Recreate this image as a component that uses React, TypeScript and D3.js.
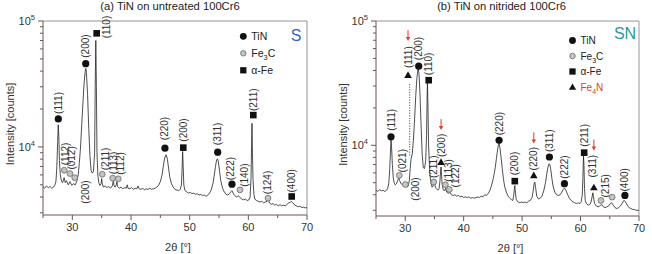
import React from "react";
import * as d3 from "d3";

// ---------- data ----------
type Pt = [number, number];
type Peak = { phase: "TiN" | "Fe3C" | "aFe" | "Fe4N"; hkl: string; theta: number; counts: number };

const xTicksMajor = [30, 40, 50, 60, 70];
const xTicksMinor = [25, 35, 45, 55, 65];
const yTicksMajor = [1e4, 1e5];
const yTicksMinor = [3000, 4000, 5000, 6000, 7000, 8000, 9000, 20000, 30000, 40000, 50000, 60000, 70000, 80000, 90000];

// TiN on untreated 100Cr6 (2θ in degrees, counts)
const sSpectrum: Pt[] = [
  [25.0, 4850], [25.3, 4700], [25.6, 4900], [25.9, 4750], [26.2, 4850], [26.5, 4700], [26.8, 4800], [27.0, 4950],
  [27.2, 5300], [27.35, 6800], [27.5, 11000], [27.6, 15000], [27.7, 12000], [27.8, 7800], [27.95, 6000], [28.1, 5500],
  [28.3, 5200], [28.4, 5300], [28.6, 5700], [28.8, 5200], [29.0, 5400], [29.3, 5000], [29.6, 5300], [29.9, 4950],
  [30.2, 5100], [30.5, 5000], [30.8, 5400], [31.0, 6000], [31.2, 7500], [31.4, 10000], [31.6, 15000], [31.8, 22000],
  [32.0, 32000], [32.2, 40000], [32.3, 42000], [32.4, 39000], [32.6, 26000], [32.8, 14000], [33.0, 8500], [33.2, 6500],
  [33.4, 6200], [33.6, 6400], [33.8, 9000], [33.9, 30000], [34.0, 70000], [34.1, 30000], [34.2, 9000], [34.35, 6000],
  [34.5, 5200], [34.7, 4950], [34.9, 5100], [35.0, 5600], [35.1, 5100], [35.3, 4800], [35.6, 4900], [35.9, 4750],
  [36.2, 4850], [36.5, 4700], [36.8, 4900], [37.0, 5400], [37.1, 4900], [37.3, 4800], [37.5, 5000], [37.6, 5300],
  [37.7, 4850], [38.0, 4700], [38.3, 4800], [38.6, 4650], [38.9, 4750], [39.2, 4700], [39.35, 5000], [39.5, 4700],
  [39.8, 4650], [40.1, 4750], [40.4, 4600], [40.7, 4700], [41.0, 4650], [41.2, 4900], [41.4, 4650], [41.7, 4600],
  [42.0, 4700], [42.3, 4550], [42.6, 4650], [42.9, 4600], [43.2, 4700], [43.5, 4600], [43.8, 4650], [44.1, 4700],
  [44.4, 4800], [44.7, 4950], [45.0, 5300], [45.3, 6000], [45.5, 7000], [45.7, 8000], [45.9, 8600], [46.0, 8650],
  [46.2, 8000], [46.4, 6800], [46.6, 5800], [46.9, 5100], [47.2, 4800], [47.5, 4600], [47.8, 4550], [48.1, 4500],
  [48.4, 4600], [48.6, 5000], [48.7, 6500], [48.8, 9200], [48.9, 7000], [49.0, 5000], [49.2, 4500], [49.5, 4400],
  [49.8, 4300], [50.1, 4350], [50.4, 4250], [50.7, 4300], [51.0, 4200], [51.3, 4250], [51.6, 4150], [51.9, 4200],
  [52.2, 4100], [52.5, 4150], [52.8, 4050], [53.1, 4150], [53.4, 4300], [53.7, 4600], [54.0, 5200], [54.2, 6000],
  [54.4, 7000], [54.6, 7900], [54.75, 8050], [54.9, 7600], [55.1, 6400], [55.3, 5400], [55.6, 4700], [55.9, 4400],
  [56.2, 4200], [56.5, 4150], [56.8, 4250], [57.0, 4400], [57.2, 4500], [57.4, 4300], [57.7, 4100], [58.0, 4000],
  [58.3, 4100], [58.6, 3950], [58.9, 3850], [59.2, 3800], [59.5, 3850], [59.8, 3750], [60.1, 3800], [60.3, 4000],
  [60.45, 5500], [60.55, 10000], [60.62, 15400], [60.7, 9000], [60.8, 5500], [60.95, 4200], [61.1, 3850], [61.4, 3750],
  [61.7, 3700], [62.0, 3650], [62.3, 3700], [62.6, 3600], [62.9, 3650], [63.2, 3700], [63.4, 3850], [63.6, 3600],
  [63.9, 3500], [64.2, 3550], [64.5, 3450], [64.8, 3500], [65.1, 3400], [65.4, 3480], [65.7, 3400], [66.0, 3450],
  [66.3, 3400], [66.6, 3500], [66.9, 3600], [67.2, 3650], [67.4, 3680], [67.6, 3600], [67.9, 3450], [68.2, 3400],
  [68.5, 3350], [68.8, 3380], [69.1, 3300], [69.4, 3320], [69.7, 3280], [70.0, 3300],
];

// TiN on nitrided 100Cr6
const snSpectrum: Pt[] = [
  [25.0, 4350], [25.3, 4250], [25.6, 4400], [25.9, 4300], [26.2, 4350], [26.5, 4250], [26.8, 4350], [27.0, 4500],
  [27.2, 5000], [27.35, 6500], [27.5, 9500], [27.57, 11000], [27.65, 10000], [27.8, 7000], [27.95, 5500], [28.1, 5000],
  [28.3, 4800], [28.5, 4900], [28.7, 5200], [28.9, 5500], [29.05, 5200], [29.3, 4900], [29.6, 4800], [29.9, 5000],
  [30.1, 4800], [30.3, 4600], [30.5, 4700], [30.7, 5200], [30.85, 6500], [31.0, 7800], [31.2, 8500], [31.4, 11000],
  [31.6, 16000], [31.8, 25000], [32.0, 35000], [32.2, 41500], [32.35, 38000], [32.5, 28000], [32.7, 15000], [32.9, 8500],
  [33.1, 6600], [33.3, 6500], [33.5, 7500], [33.65, 12000], [33.75, 25000], [33.8, 32000], [33.88, 22000], [34.0, 10000],
  [34.2, 6000], [34.4, 5000], [34.6, 4600], [34.8, 4750], [34.95, 5100], [35.1, 4700], [35.3, 4500], [35.6, 4350],
  [35.8, 4500], [35.95, 5200], [36.05, 6200], [36.13, 6700], [36.2, 6000], [36.3, 4900], [36.5, 4400], [36.7, 4300],
  [36.9, 4500], [37.1, 4200], [37.4, 4100], [37.6, 4250], [37.9, 4000], [38.2, 3950], [38.5, 4000], [38.8, 3900],
  [39.1, 3950], [39.4, 3850], [39.7, 3900], [40.0, 3800], [40.3, 3850], [40.6, 3800], [40.9, 3850], [41.2, 3750],
  [41.5, 3800], [41.8, 3750], [42.1, 3800], [42.4, 3850], [42.7, 3800], [43.0, 3900], [43.3, 3850], [43.6, 4000],
  [43.9, 3950], [44.2, 4100], [44.5, 4350], [44.8, 4800], [45.1, 5500], [45.4, 6600], [45.6, 7800], [45.8, 9200],
  [45.95, 10100], [46.06, 10300], [46.2, 9600], [46.4, 8000], [46.6, 6500], [46.8, 5400], [47.0, 4700], [47.3, 4200],
  [47.6, 3900], [47.9, 3750], [48.2, 3650], [48.4, 3600], [48.55, 3900], [48.68, 4500], [48.75, 4750], [48.85, 4200],
  [49.0, 3650], [49.3, 3500], [49.6, 3450], [49.9, 3500], [50.2, 3450], [50.5, 3500], [50.8, 3450], [51.1, 3550],
  [51.4, 3600], [51.7, 3800], [51.9, 4300], [52.05, 4900], [52.17, 5060], [52.3, 4600], [52.5, 3900], [52.8, 3700],
  [53.1, 3750], [53.4, 3900], [53.7, 4300], [54.0, 5000], [54.2, 5800], [54.4, 6600], [54.6, 7100], [54.75, 7000],
  [54.9, 6400], [55.1, 5400], [55.3, 4700], [55.6, 4200], [55.9, 4000], [56.2, 3950], [56.5, 4000], [56.8, 4200],
  [57.0, 4400], [57.25, 4530], [57.5, 4350], [57.8, 4000], [58.1, 3750], [58.4, 3600], [58.7, 3500], [59.0, 3450],
  [59.3, 3400], [59.6, 3450], [59.9, 3400], [60.1, 3500], [60.3, 4000], [60.4, 5500], [60.5, 8300], [60.58, 7000],
  [60.68, 4500], [60.8, 3600], [61.0, 3400], [61.3, 3300], [61.6, 3350], [61.8, 3500], [62.0, 3900], [62.1, 4150],
  [62.2, 3900], [62.4, 3400], [62.7, 3250], [63.0, 3200], [63.3, 3250], [63.6, 3350], [63.9, 3200], [64.2, 3150],
  [64.5, 3200], [64.8, 3250], [65.1, 3400], [65.3, 3450], [65.6, 3300], [65.9, 3150], [66.2, 3100], [66.5, 3150],
  [66.8, 3250], [67.1, 3400], [67.35, 3580], [67.5, 3600], [67.7, 3500], [68.0, 3300], [68.3, 3150], [68.6, 3100],
  [68.9, 3050], [69.2, 3050], [69.5, 3000], [69.8, 3000], [70.0, 2990],
];

// Fe4N(111) reflection, drawn dotted
const snFe4NTrace: Pt[] = [[30.77, 8300], [30.77, 32000]];

const sPeaks: Peak[] = [
  { phase: "TiN", hkl: "(111)", theta: 27.61, counts: 16700 },
  { phase: "Fe3C", hkl: "(112)", theta: 28.63, counts: 6530 },
  { phase: "Fe3C", hkl: "(012)", theta: 29.6, counts: 6140 },
  { phase: "Fe3C", hkl: "", theta: 30.4, counts: 5700 },
  { phase: "TiN", hkl: "(200)", theta: 32.28, counts: 45800 },
  { phase: "aFe", hkl: "(110)", theta: 34.15, counts: 79800 },
  { phase: "Fe3C", hkl: "(211)", theta: 35.11, counts: 6070 },
  { phase: "Fe3C", hkl: "(113)", theta: 36.88, counts: 5650 },
  { phase: "Fe3C", hkl: "(112)", theta: 37.83, counts: 5580 },
  { phase: "TiN", hkl: "(220)", theta: 45.79, counts: 9770 },
  { phase: "aFe", hkl: "(200)", theta: 48.91, counts: 9870 },
  { phase: "TiN", hkl: "(311)", theta: 54.78, counts: 9080 },
  { phase: "TiN", hkl: "(222)", theta: 57.21, counts: 5060 },
  { phase: "Fe3C", hkl: "(140)", theta: 58.58, counts: 4560 },
  { phase: "aFe", hkl: "(211)", theta: 60.85, counts: 17900 },
  { phase: "Fe3C", hkl: "(124)", theta: 63.35, counts: 3920 },
  { phase: "aFe", hkl: "(400)", theta: 67.39, counts: 4040 },
];

const snPeaks: Peak[] = [
  { phase: "TiN", hkl: "(111)", theta: 27.57, counts: 11700 },
  { phase: "Fe3C", hkl: "(021)", theta: 28.99, counts: 5730 },
  { phase: "Fe3C", hkl: "", theta: 30.02, counts: 4840 },
  { phase: "Fe4N", hkl: "(111)", theta: 30.48, counts: 36700 },
  { phase: "TiN", hkl: "(200)", theta: 32.31, counts: 43300 },
  { phase: "aFe", hkl: "(110)", theta: 34.02, counts: 33400 },
  { phase: "Fe3C", hkl: "(211)", theta: 34.88, counts: 5060 },
  { phase: "Fe4N", hkl: "(200)", theta: 36.13, counts: 7330 },
  { phase: "Fe3C", hkl: "(113)", theta: 36.87, counts: 4820 },
  { phase: "Fe3C", hkl: "(122)", theta: 37.55, counts: 4420 },
  { phase: "TiN", hkl: "(220)", theta: 46.06, counts: 10970 },
  { phase: "aFe", hkl: "(200)", theta: 48.75, counts: 5150 },
  { phase: "Fe4N", hkl: "(220)", theta: 52.0, counts: 5730 },
  { phase: "TiN", hkl: "(311)", theta: 54.67, counts: 8050 },
  { phase: "TiN", hkl: "(222)", theta: 57.24, counts: 4910 },
  { phase: "aFe", hkl: "(211)", theta: 60.62, counts: 8730 },
  { phase: "Fe4N", hkl: "(311)", theta: 62.28, counts: 4580 },
  { phase: "Fe3C", hkl: "(215)", theta: 63.48, counts: 3600 },
  { phase: "Fe3C", hkl: "", theta: 65.41, counts: 3830 },
  { phase: "TiN", hkl: "(400)", theta: 67.59, counts: 3950 },
];

// reflections labelled without a symbol (below the curve)
const sBareLabels = [{ hkl: "(200)", theta: 32.2 }];
const snBareLabels = [{ hkl: "(200)", theta: 31.74 }];

const sLegend = ["TiN", "Fe3C", "aFe"] as const;
const snLegend = ["TiN", "Fe3C", "aFe", "Fe4N"] as const;

// ---------- layout / style ----------
const FONT = "'Liberation Sans', Arial, Helvetica, sans-serif";
const AXIS = "#6b5552";
const FRAME = "#8a8a8a";
const RED = "#e5392a";

// [dx, gap] per peak label: label starts `gap` px above the symbol centre
const sLabelNudge: [number, number][] = [
  [0, 5], [1, 5], [2, 4], [0, 0], [0, 6], [10, -5], [3, 4], [1, 4], [2, 4],
  [0, 8], [0, 6], [0, 7], [-1, 4], [4, 3], [0, 4], [0, 4], [0, 4],
];
const snLabelNudge: [number, number][] = [
  [0, 6], [3, 3], [0, 0], [0, 7], [0, 6], [0, 5], [0, 4], [0, 5], [3, 3], [6, 2],
  [0, 5], [0, 6], [0, 5], [0, 5], [0, 5], [0, 6], [-1, 10], [5, 3], [0, 0], [0, 4],
];

function Symbol({ phase, x, y, s = 1 }: { phase: string; x: number; y: number; s?: number }) {
  if (phase === "TiN") return <circle cx={x} cy={y} r={3.6 * s} fill="#111" />;
  if (phase === "Fe3C")
    return <circle cx={x} cy={y} r={2.9 * s} fill="#c4c4c4" stroke="#6a6a6a" strokeWidth={0.8} />;
  if (phase === "aFe") {
    const h = 3.3 * s;
    return <rect x={x - h} y={y - h} width={2 * h} height={2 * h} fill="#111" />;
  }
  const t = 3.8 * s;
  return <path d={`M${x},${y - t} L${x + t},${y + t * 0.75} L${x - t},${y + t * 0.75} Z`} fill="#111" />;
}

function LegendText({ phase }: { phase: string }) {
  if (phase === "Fe3C")
    return (
      <>
        Fe<tspan fontSize="0.7em" dy="3">3</tspan>
        <tspan dy="-3">C</tspan>
      </>
    );
  if (phase === "Fe4N")
    return (
      <>
        Fe<tspan fontSize="0.7em" dy="3">4</tspan>
        <tspan dy="-3">N</tspan>
      </>
    );
  if (phase === "aFe") return <>α-Fe</>;
  return <>TiN</>;
}

type PanelProps = {
  title: string;
  titleX: number;
  spectrum: Pt[];
  peaks: Peak[];
  nudges: [number, number][];
  bare: { hkl: string; theta: number }[];
  bareOffset: number;
  left: number;
  right: number;
  top: number;
  bottom: number;
  yMin: number;
  legend: readonly string[];
  legendX: number;
  legendY: number;
  legendStep: number;
  legendFont: number;
  tag: string;
  tagX: number;
  tagY: number;
  tagColor: string;
  dotted?: Pt[];
};

function Panel(p: PanelProps) {
  const x = d3.scaleLinear().domain([25, 70]).range([p.left, p.right]);
  const y = d3.scaleLog().domain([p.yMin, 1e5]).range([p.bottom, p.top]);
  const line = d3
    .line<Pt>()
    .x((d) => x(d[0]))
    .y((d) => y(d[1]));
  const cx = (p.left + p.right) / 2;
  const labelLen = 23;

  return (
    <g fontFamily={FONT}>
      <text x={p.titleX} y={10} textAnchor="middle" fontSize={11.2} fill="#222">
        {p.title}
      </text>

      {/* frame */}
      <line x1={p.left} x2={p.right} y1={p.top} y2={p.top} stroke={FRAME} strokeWidth={0.9} />
      <line x1={p.right} x2={p.right} y1={p.top} y2={p.bottom} stroke={FRAME} strokeWidth={0.9} />
      <line x1={p.left} x2={p.left} y1={p.top} y2={p.bottom} stroke={AXIS} strokeWidth={1} />
      <line x1={p.left} x2={p.right} y1={p.bottom} y2={p.bottom} stroke={AXIS} strokeWidth={1} />

      {/* x ticks */}
      {xTicksMajor.map((t) => (
        <g key={"xM" + t}>
          <line x1={x(t)} x2={x(t)} y1={p.bottom} y2={p.bottom + 5} stroke={AXIS} />
          <text x={x(t)} y={p.bottom + 16} textAnchor="middle" fontSize={11} fill="#333">
            {t}
          </text>
        </g>
      ))}
      {xTicksMinor.map((t) => (
        <line key={"xm" + t} x1={x(t)} x2={x(t)} y1={p.bottom} y2={p.bottom + 3} stroke={AXIS} />
      ))}

      {/* y ticks */}
      {yTicksMajor.map((t) => (
        <g key={"yM" + t}>
          <line x1={p.left - 5} x2={p.left} y1={y(t)} y2={y(t)} stroke={AXIS} />
          <text x={p.left - 8} y={y(t) + 4} textAnchor="end" fontSize={11} fill="#333">
            10<tspan fontSize={7.5} dy={-5}>{Math.round(Math.log10(t))}</tspan>
          </text>
        </g>
      ))}
      {yTicksMinor
        .filter((t) => t >= p.yMin)
        .map((t) => (
          <line key={"ym" + t} x1={p.left - 3} x2={p.left} y1={y(t)} y2={y(t)} stroke={AXIS} />
        ))}

      {/* axis titles */}
      <text x={cx + 3} y={p.bottom + 36} textAnchor="middle" fontSize={11} fill="#333">
        2θ [°]
      </text>
      <text
        transform={`translate(${p.left - 29},${(p.top + p.bottom) / 2 + 6}) rotate(-90)`}
        textAnchor="middle"
        fontSize={11}
        fill="#333"
      >
        Intensity [counts]
      </text>

      {/* spectrum */}
      {p.dotted && (
        <path d={line(p.dotted) || ""} fill="none" stroke="#555" strokeWidth={1} strokeDasharray="1.2,1.4" />
      )}
      <path d={line(p.spectrum) || ""} fill="none" stroke="#222" strokeWidth={0.8} strokeLinejoin="round" />

      {/* peak symbols, labels and Fe4N arrows */}
      {p.peaks.map((pk, i) => {
        const px = x(pk.theta);
        const py = y(pk.counts);
        const [dx, gap] = p.nudges[i];
        const ly = py - gap;
        const arrowBottom = ly - labelLen - 4;
        return (
          <g key={"pk" + i}>
            <Symbol phase={pk.phase} x={px} y={py} />
            {pk.hkl && (
              <text
                transform={`translate(${px + dx},${ly}) rotate(-90)`}
                textAnchor="start"
                dominantBaseline="central"
                fontSize={10}
                fill="#333"
              >
                {pk.hkl}
              </text>
            )}
            {pk.phase === "Fe4N" && (
              <g>
                <line x1={px} x2={px} y1={arrowBottom - 11} y2={arrowBottom - 3} stroke={RED} strokeWidth={1} />
                <path
                  d={`M${px - 2.2},${arrowBottom - 4} L${px + 2.2},${arrowBottom - 4} L${px},${arrowBottom} Z`}
                  fill={RED}
                />
              </g>
            )}
          </g>
        );
      })}
      {p.bare.map((b, i) => (
        <text
          key={"b" + i}
          transform={`translate(${x(b.theta)},${p.bottom - p.bareOffset}) rotate(-90)`}
          textAnchor="middle"
          dominantBaseline="central"
          fontSize={10}
          fill="#333"
        >
          {b.hkl}
        </text>
      ))}

      {/* legend */}
      {p.legend.map((ph, i) => {
        const ly = p.legendY + i * p.legendStep;
        return (
          <g key={"lg" + ph}>
            <Symbol phase={ph} x={p.legendX} y={ly} s={0.95} />
            <text
              x={p.legendX + 8}
              y={ly + p.legendFont * 0.36}
              fontSize={p.legendFont}
              fill={ph === "Fe4N" ? RED : "#222"}
            >
              <LegendText phase={ph} />
            </text>
          </g>
        );
      })}
      <text x={p.tagX} y={p.tagY} textAnchor="middle" fontSize={16} fill={p.tagColor}>
        {p.tag}
      </text>
    </g>
  );
}

export default function App() {
  return (
    <svg width={652} height={254} style={{ display: "block", position: "absolute", left: 0, top: 0, background: "#fff" }}>
      <rect width={652} height={254} fill="#fff" />
      <Panel
        title="(a) TiN on untreated 100Cr6"
        titleX={170}
        spectrum={sSpectrum}
        peaks={sPeaks}
        nudges={sLabelNudge}
        bare={sBareLabels}
        bareOffset={23}
        left={43}
        right={307}
        top={21}
        bottom={215}
        yMin={2880}
        legend={sLegend}
        legendX={243.3}
        legendY={36.3}
        legendStep={17}
        legendFont={10.5}
        tag="S"
        tagX={296}
        tagY={41}
        tagColor="#3564c8"
      />
      <Panel
        title="(b) TiN on nitrided 100Cr6"
        titleX={501.5}
        spectrum={snSpectrum}
        peaks={snPeaks}
        nudges={snLabelNudge}
        bare={snBareLabels}
        bareOffset={27}
        left={376}
        right={639}
        top={21}
        bottom={216}
        yMin={2700}
        legend={snLegend}
        legendX={572.5}
        legendY={40.5}
        legendStep={15.5}
        legendFont={10}
        tag="SN"
        tagX={625}
        tagY={39}
        tagColor="#2a9a9a"
        dotted={snFe4NTrace}
      />
    </svg>
  );
}
